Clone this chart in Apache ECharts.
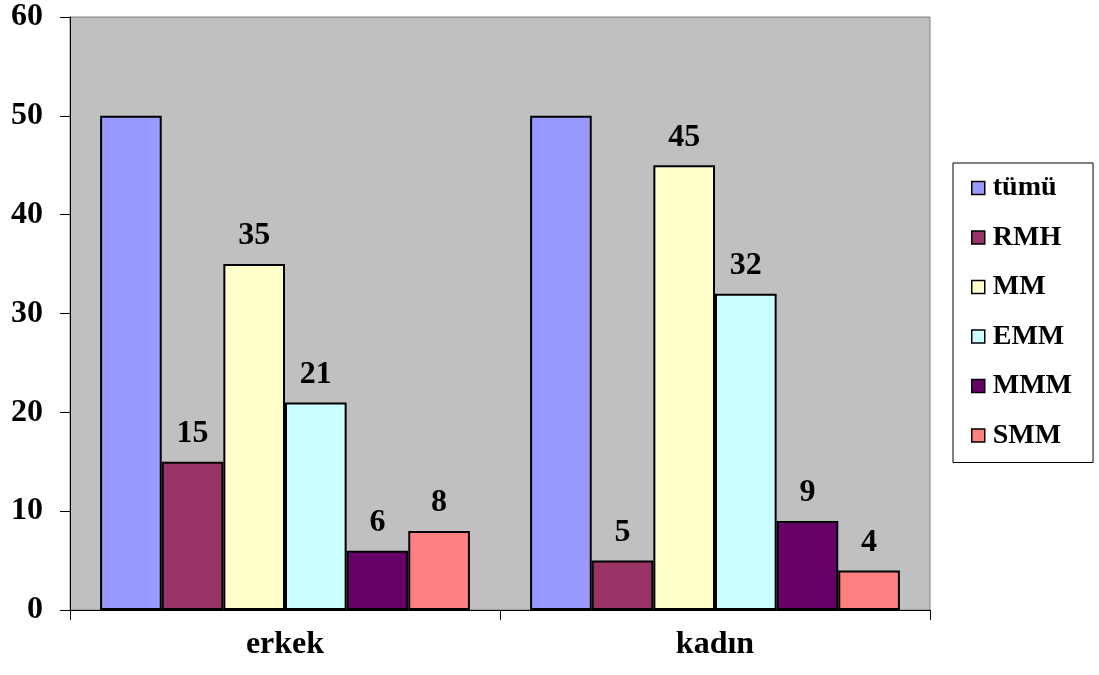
<!DOCTYPE html>
<html>
<head>
<meta charset="utf-8">
<script src="https://cdn.jsdelivr.net/npm/echarts@6/dist/echarts.min.js"></script>
<style>
  html, body { margin: 0; padding: 0; background: #fff; }
  #chart { width: 1099px; height: 675px; }
</style>
</head>
<body>
<div id="chart"></div>
<script>
// Groups on the x axis
const categories = ['erkek', 'kadın'];

// Series values per group
const tumu = [50, 50];
const rmh = [15, 5];
const mm = [35, 45];
const emm = [21, 32];
const mmm = [6, 9];
const smm = [8, 4];

// Y axis ticks
const yTicks = [0, 10, 20, 30, 40, 50, 60];

const FONT = '"Liberation Serif", "Times New Roman", serif';

const seriesDefs = [
  { name: 'tümü', data: tumu, color: '#9999FF', label: false },
  { name: 'RMH', data: rmh, color: '#993366', label: true },
  { name: 'MM', data: mm, color: '#FFFFCC', label: true },
  { name: 'EMM', data: emm, color: '#CCFFFF', label: true },
  { name: 'MMM', data: mmm, color: '#660066', label: true },
  { name: 'SMM', data: smm, color: '#FF8080', label: true }
];

const chart = echarts.init(document.getElementById('chart'), null, { renderer: 'canvas' });

chart.setOption({
  animation: false,
  backgroundColor: '#ffffff',
  grid: {
    left: 70, right: 169, top: 17, bottom: 65,
    show: true,
    backgroundColor: '#C0C0C0',
    borderColor: '#808080',
    borderWidth: 1
  },
  legend: {
    orient: 'vertical',
    left: 953,
    top: 163,
    padding: [11, 21, 13, 18],
    backgroundColor: '#ffffff',
    borderColor: '#000000',
    borderWidth: 1,
    itemWidth: 13,
    itemHeight: 13,
    itemGap: 21.5,
    icon: 'rect',
    itemStyle: { borderColor: '#000', borderWidth: 1.5 },
    textStyle: { fontFamily: FONT, fontWeight: 'bold', fontSize: 28, color: '#000', padding: [0, 0, 0, 3] },
    data: seriesDefs.map(s => s.name)
  },
  xAxis: {
    type: 'category',
    data: categories,
    boundaryGap: true,
    axisLine: { lineStyle: { color: '#000', width: 1 } },
    axisTick: { show: true, length: 10, lineStyle: { color: '#000' } },
    axisLabel: { fontFamily: FONT, fontWeight: 'bold', fontSize: 32, color: '#000', margin: 19 },
    splitLine: { show: false }
  },
  yAxis: {
    type: 'value',
    min: yTicks[0],
    max: yTicks[yTicks.length - 1],
    interval: yTicks[1] - yTicks[0],
    axisLine: { show: true, lineStyle: { color: '#000', width: 1 } },
    axisTick: { show: true, length: 10, lineStyle: { color: '#000' } },
    axisLabel: { fontFamily: FONT, fontWeight: 'bold', fontSize: 32, color: '#000', margin: 27 },
    splitLine: { show: false }
  },
  series: seriesDefs.map(s => ({
    name: s.name,
    type: 'bar',
    data: s.data,
    barGap: '0%',
    barCategoryGap: '14%',
    itemStyle: { color: s.color, borderColor: '#000', borderWidth: 2 },
    label: {
      show: s.label,
      position: 'top',
      distance: 12,
      fontFamily: FONT,
      fontWeight: 'bold',
      fontSize: 32,
      color: '#000'
    }
  }))
});
</script>
</body>
</html>
